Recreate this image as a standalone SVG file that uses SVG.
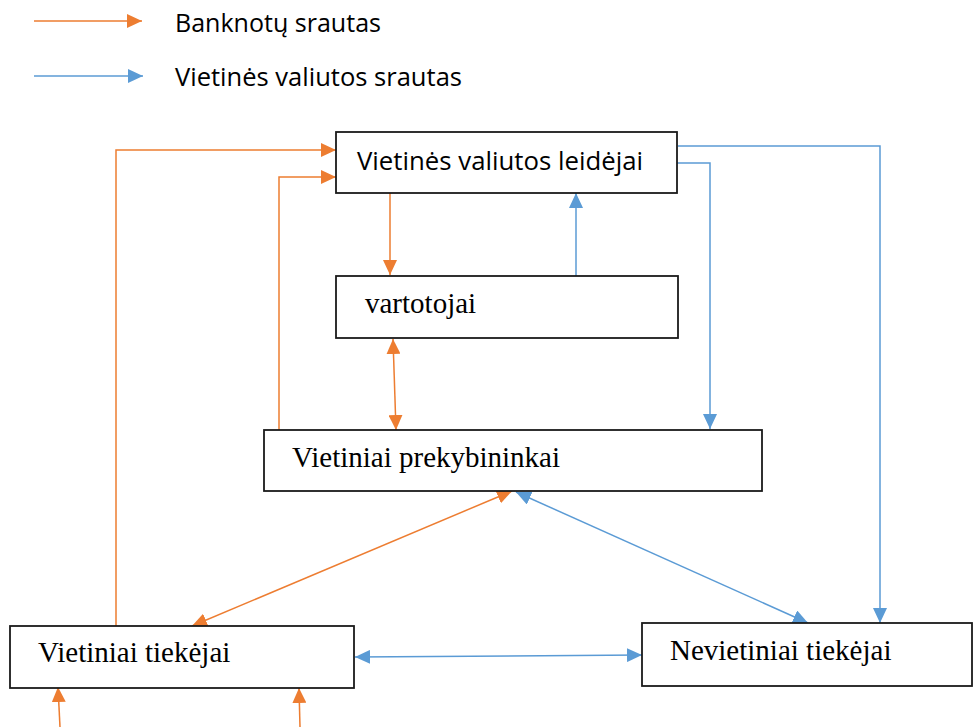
<svg xmlns="http://www.w3.org/2000/svg" width="973" height="727" viewBox="0 0 973 727">
<style>
.box{fill:#fff;stroke:#1a1a1a;stroke-width:1.8}
.or{fill:none;stroke:#ED7D31;stroke-width:1.5}
.bl{fill:none;stroke:#5B9BD5;stroke-width:1.5}
.sans{font-family:"Open Sans","Liberation Sans",sans-serif;font-size:25px;fill:#000}
.serif{font-family:"Liberation Serif","Times New Roman",serif;font-size:29px;fill:#000}
</style>
<defs>
<marker id="ao" viewBox="0 0 15 14" refX="15" refY="7" markerWidth="15" markerHeight="14" markerUnits="userSpaceOnUse" orient="auto-start-reverse"><path d="M0,0 L15,7 L0,14 Z" fill="#ED7D31"/></marker>
<marker id="ab" viewBox="0 0 15 14" refX="15" refY="7" markerWidth="15" markerHeight="14" markerUnits="userSpaceOnUse" orient="auto-start-reverse"><path d="M0,0 L15,7 L0,14 Z" fill="#5B9BD5"/></marker>
</defs>
<rect width="973" height="727" fill="#fff"/>
<g id="legend">
<line class="or" x1="34" y1="21" x2="142" y2="21" marker-end="url(#ao)"/>
<text class="sans" x="175" y="32" textLength="206" lengthAdjust="spacingAndGlyphs">Banknotų srautas</text>
<line class="bl" x1="34" y1="76" x2="143" y2="76" marker-end="url(#ab)"/>
<text class="sans" x="175" y="86" textLength="287" lengthAdjust="spacingAndGlyphs">Vietinės valiutos srautas</text>
</g>
<g id="connectors">
<polyline class="or" points="116,626 116,150 336,150" marker-end="url(#ao)"/>
<polyline class="or" points="279,430 279,177 336,177" marker-end="url(#ao)"/>
<line class="or" x1="390" y1="193" x2="390" y2="275" marker-end="url(#ao)"/>
<line class="or" x1="393" y1="339" x2="396" y2="430" marker-start="url(#ao)" marker-end="url(#ao)"/>
<line class="bl" x1="576" y1="276" x2="576" y2="193" marker-end="url(#ab)"/>
<polyline class="bl" points="677,163 710,163 710,429" marker-end="url(#ab)"/>
<polyline class="bl" points="678,146 880,146 880,623" marker-end="url(#ab)"/>
<line class="or" x1="192" y1="626" x2="512" y2="491" marker-start="url(#ao)" marker-end="url(#ao)"/>
<line class="bl" x1="516" y1="492" x2="808" y2="623" marker-start="url(#ab)" marker-end="url(#ab)"/>
<line class="bl" x1="355" y1="657" x2="642" y2="655" marker-start="url(#ab)" marker-end="url(#ab)"/>
<line class="or" x1="60" y1="727" x2="58" y2="687" marker-end="url(#ao)"/>
<line class="or" x1="300" y1="727" x2="299" y2="688" marker-end="url(#ao)"/>
</g>
<g id="issuers">
<rect class="box" x="336" y="132" width="341" height="61"/>
<text class="sans" x="357" y="170" textLength="286" lengthAdjust="spacingAndGlyphs">Vietinės valiutos leidėjai</text>
</g>
<g id="consumers">
<rect class="box" x="336" y="276" width="342" height="62"/>
<text class="serif" x="365" y="313">vartotojai</text>
</g>
<g id="merchants">
<rect class="box" x="264" y="430" width="498" height="61"/>
<text class="serif" x="292" y="467">Vietiniai prekybininkai</text>
</g>
<g id="local-suppliers">
<rect class="box" x="10" y="626" width="344" height="62"/>
<text class="serif" x="38" y="662">Vietiniai tiekėjai</text>
</g>
<g id="nonlocal-suppliers">
<rect class="box" x="642" y="623" width="330" height="63"/>
<text class="serif" x="670" y="660">Nevietiniai tiekėjai</text>
</g>
</svg>
